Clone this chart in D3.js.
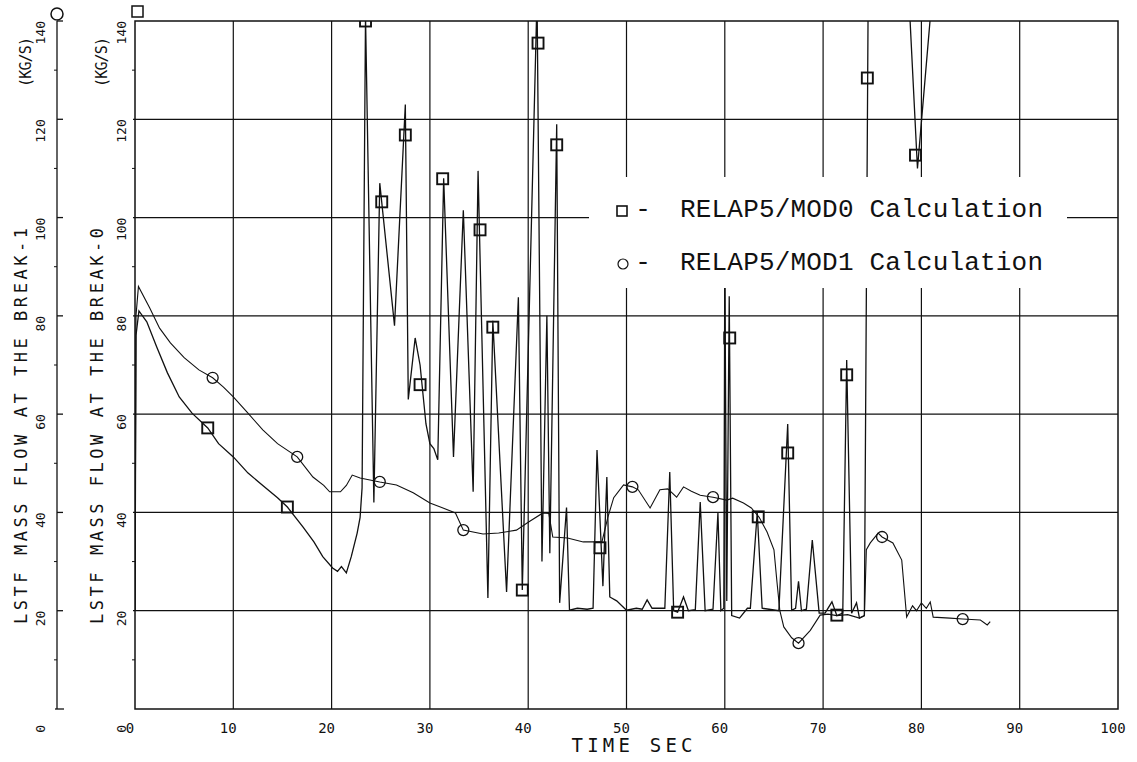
<!DOCTYPE html>
<html><head><meta charset="utf-8">
<script src="https://cdn.jsdelivr.net/npm/d3@7"></script>
<style>body{margin:0;background:#fff}svg{display:block}</style>
</head><body>
<svg id="c" width="1137" height="762"></svg>
<script>
// ---------------- data ----------------
const xTicks = [0,10,20,30,40,50,60,70,80,90,100];
const xTickLabels = ["0","10","20","30","40","50","60","70","80","90","100"];
const yTicks = [0,20,40,60,80,100,120,140];
const yTickLabels = ["0","20","40","60","80","100","120","140"];

// RELAP5/MOD0 (square markers)
const mod0Time = [0,0.1,0.4,1.2,2.2,3.3,4.5,5.8,7.4,8.5,10,11.5,13,14.5,15.5,17.1,18.2,19.1,20.1,20.6,21,21.5,22,22.6,22.9,23.1,23.45,24.3,24.9,26.4,27.5,27.8,28.5,29,29.6,30,30.4,30.8,31.4,32.4,33.4,34.4,34.9,35.9,36.4,37.8,39,39.4,40.9,41.4,41.9,42.2,42.9,43.2,43.9,44.2,45,46,46.6,47,47.6,48,48.3,49,50,51,51.6,52.1,52.6,53.9,54.4,54.8,55.2,55.8,56.3,57,57.5,58,58.8,59.3,59.6,59.9,60,60.2,60.45,60.7,61.5,62.3,62.6,63.3,63.8,64.5,65.5,66.4,66.8,67.2,67.5,67.8,68.3,68.9,69.6,70.2,70.9,71.4,72,72.4,72.9,73.4,73.7,74.2,74.6,78.6,79.6,81.3];
const mod0Flow = [20,76,81,78.8,73.7,68.4,63.5,60.2,57.2,54,51.3,48,45.5,43,41.1,37,34,31,28.7,28,29,27.7,31,35.8,39,45,141,42,107,78,123,63,75.5,70,58,54,53,50.7,108,51.3,101.5,44.2,109.5,22.6,79,23.8,83.8,24.2,145,30,80,31.7,119,21.6,41,20.1,20.5,20.3,20.5,52.7,25,47.2,22.8,22,20.1,20.5,20.3,22.2,20.5,20.5,48.2,20,19.7,22.8,20,20.2,42.1,20,20.3,39.9,20,20.5,92,22,84,19,18.5,20.5,20.5,40,20.5,20.3,20,58,20.1,20.5,26,20,20.3,34.4,19.5,19.5,21.8,19,19.5,71,19.5,21.6,18.5,19,150,150,110,150];
const mod0MarkTime = [7.4,15.5,23.45,25.1,27.5,29.0,31.3,35.1,36.4,39.4,41.0,42.9,47.3,55.2,60.5,63.4,66.4,71.4,72.4,74.5,79.4];
const mod0MarkFlow = [57.2,41.1,140,103.2,116.8,66,107.9,97.5,77.7,24.2,135.5,114.8,32.8,19.7,75.5,39.1,52.1,19.1,68,128.4,112.7];

// RELAP5/MOD1 (circle markers)
const mod1Time = [0,0.1,0.35,1.5,2.5,3.6,5,6.5,7.9,9,10,11.4,13,14.5,16.5,18.1,19.2,19.8,20.9,21.5,22.1,22.9,24.9,26.6,28.3,30,31.2,32.6,33.4,35.4,37,38.8,40,41.5,42.1,42.5,44,45.6,47.5,48.1,48.7,49.7,50.6,51.2,52.4,53.4,54.2,55.1,55.8,56.6,57.5,58.8,60.2,60.8,61.9,62.7,63.5,64.3,65,65.3,65.6,66,66.8,67.5,68.7,69.7,70.5,71.4,72.5,73.7,74.2,74.4,74.8,75.6,76,77.1,78,78.5,79.1,79.5,80,80.5,80.9,81.2,82.9,84.2,86,86.7,87];
const mod1Flow = [20,80,86,81.6,77.5,74.5,71.5,69,67.4,65.5,63.5,60.4,56.8,54,51.3,47.2,45.5,44.2,44.2,45.5,47.6,47,46.2,45.6,44,41.9,41,39.9,36.4,35.6,35.8,36.4,38,39.9,39.8,35,34.8,34,34,39,43,45.6,45.2,44.6,40.9,44.6,44.8,43.1,45.2,44.3,43.5,43.1,42.5,42.9,41.9,40.9,39,36,32.4,26,20,16.7,14.5,13.4,16,19.1,19.3,19,19.2,18.5,19,32.4,33.8,35.8,35,33.8,30.3,18.7,21,20,21.6,20.5,21.8,18.7,18.5,18.3,18.1,17.1,17.8];
const mod1MarkTime = [7.9,16.5,24.9,33.4,50.6,58.8,67.5,76.0,84.2];
const mod1MarkFlow = [67.4,51.3,46.2,36.4,45.2,43.1,13.4,35.0,18.3];

const legendLabels = ["RELAP5/MOD0 Calculation","RELAP5/MOD1 Calculation"];
const yTitleInner = "LSTF MASS FLOW AT THE BREAK-0";
const yTitleOuter = "LSTF MASS FLOW AT THE BREAK-1";
const yUnit = "(KG/S)";
const xTitle = "TIME  SEC";

// ---------------- drawing ----------------
const svg = d3.select("#c");
const ink = "#111";
const monoFont = "'DejaVu Sans Mono', monospace";
svg.append("rect").attr("width",1137).attr("height",762).attr("fill","#fff");

const x = d3.scaleLinear().domain([0,100]).range([135,1118]);
const y = d3.scaleLinear().domain([0,140]).range([709,21]);
const yOuter = d3.scaleLinear().domain([0,140]).range([709,21]);
const outerX = 57;

svg.append("defs").append("clipPath").attr("id","plotClip")
  .append("rect").attr("x",x(0)).attr("y",y(140))
  .attr("width",x(100)-x(0)).attr("height",y(0)-y(140));

// grid
const grid = svg.append("g").attr("stroke",ink).attr("stroke-width",1.2);
grid.selectAll("line.vg").data(xTicks.slice(1,-1)).join("line")
  .attr("x1",d=>x(d)).attr("x2",d=>x(d)).attr("y1",y(0)).attr("y2",y(140));
grid.selectAll("line.hg").data(yTicks.slice(1,-1)).join("line")
  .attr("x1",x(0)-2).attr("x2",x(100)).attr("y1",d=>y(d)).attr("y2",d=>y(d));
grid.selectAll("line.mt").data(d3.range(10,140,20)).join("line")
  .attr("x1",x(0)-3).attr("x2",x(0)).attr("y1",d=>y(d)).attr("y2",d=>y(d)).attr("stroke-width",1);
svg.append("rect").attr("x",x(0)).attr("y",y(140)).attr("width",x(100)-x(0)).attr("height",y(0)-y(140))
  .attr("fill","none").attr("stroke",ink).attr("stroke-width",1.5);

// data lines
const line = d3.line().x(d=>x(d[0])).y(d=>y(d[1]));
const dataG = svg.append("g").attr("clip-path","url(#plotClip)").attr("fill","none").attr("stroke",ink);
dataG.append("path").datum(d3.zip(mod1Time,mod1Flow)).attr("d",line).attr("stroke-width",1.1);
dataG.append("path").datum(d3.zip(mod0Time,mod0Flow)).attr("d",line).attr("stroke-width",1.3);

// markers
const ms = 11;
dataG.selectAll("rect.m0").data(d3.zip(mod0MarkTime,mod0MarkFlow)).join("rect")
  .attr("x",d=>x(d[0])-ms/2).attr("y",d=>y(d[1])-ms/2).attr("width",ms).attr("height",ms)
  .attr("fill","none").attr("stroke-width",1.9);
dataG.selectAll("circle.m1").data(d3.zip(mod1MarkTime,mod1MarkFlow)).join("circle")
  .attr("cx",d=>x(d[0])).attr("cy",d=>y(d[1])).attr("r",5.5)
  .attr("fill","none").attr("stroke-width",1.3);

// legend (blanks the grid behind it)
svg.append("rect").attr("x",589).attr("y",177).attr("width",478).attr("height",111).attr("fill","#fff");
const leg = svg.append("g");
const legFont = "'Courier New','Liberation Mono',monospace";
leg.append("rect").attr("x",617).attr("y",206).attr("width",10).attr("height",10)
  .attr("fill","none").attr("stroke",ink).attr("stroke-width",1.6);
leg.append("circle").attr("cx",623).attr("cy",264).attr("r",5)
  .attr("fill","none").attr("stroke",ink).attr("stroke-width",1.2);
[217,270].forEach((by,i)=>{
  leg.append("text").attr("x",643).attr("y",by).attr("text-anchor","middle")
    .attr("font-family",legFont).attr("font-size",26).attr("fill",ink).text("-");
  leg.append("text").attr("x",680).attr("y",by)
    .attr("font-family",legFont).attr("font-size",26).attr("fill",ink)
    .attr("textLength",363).attr("lengthAdjust","spacing").text(legendLabels[i]);
});

// x tick labels
svg.append("g").selectAll("text").data(xTicks).join("text")
  .attr("x",d=>x(d)-5).attr("y",733).attr("text-anchor","middle")
  .attr("font-family",monoFont).attr("font-size",14).attr("fill",ink)
  .text((d,i)=>xTickLabels[i]);
svg.append("text").attr("x",632).attr("y",752).attr("text-anchor","middle")
  .attr("font-family",monoFont).attr("font-size",19).attr("fill",ink)
  .attr("textLength",121).attr("lengthAdjust","spacing").text(xTitle);

// y tick labels (rotated)
function yLabels(scale, bx){
  svg.append("g").selectAll("text").data(yTicks).join("text")
    .attr("transform",d=>`translate(${bx},${d===0?scale(d)+16:scale(d)}) rotate(-90)`)
    .attr("text-anchor","end")
    .attr("font-family",monoFont).attr("font-size",13).attr("fill",ink)
    .text((d,i)=>yTickLabels[i]);
}
yLabels(y,126);
yLabels(yOuter,45);

// y titles
function yTitle(bx, txt){
  svg.append("text").attr("transform",`translate(${bx},426) rotate(-90)`)
    .attr("text-anchor","middle").attr("font-family",monoFont).attr("font-size",17).attr("fill",ink)
    .attr("textLength",396).attr("lengthAdjust","spacing").text(txt);
  svg.append("text").attr("transform",`translate(${bx+4},62) rotate(-90)`)
    .attr("text-anchor","middle").attr("font-family",monoFont).attr("font-size",15).attr("fill",ink)
    .attr("textLength",50).attr("lengthAdjust","spacing").text(yUnit);
}
yTitle(27, yTitleOuter);
yTitle(103, yTitleInner);

// outer axis
const og = svg.append("g").attr("stroke",ink).attr("stroke-width",1.3);
og.append("line").attr("x1",outerX).attr("x2",outerX).attr("y1",yOuter(0)).attr("y2",yOuter(140));
og.append("line").attr("x1",outerX-2).attr("x2",outerX+7).attr("y1",yOuter(0)).attr("y2",yOuter(0));
og.selectAll("line.t").data(yTicks.slice(1)).join("line")
  .attr("x1",outerX).attr("x2",outerX+6).attr("y1",d=>yOuter(d)).attr("y2",d=>yOuter(d));
og.selectAll("line.m").data(d3.range(10,140,20)).join("line")
  .attr("x1",outerX-3).attr("x2",outerX).attr("y1",d=>yOuter(d)).attr("y2",d=>yOuter(d)).attr("stroke-width",1);

// series symbols on top of the axes
svg.append("circle").attr("cx",57).attr("cy",14).attr("r",6).attr("fill","none").attr("stroke",ink).attr("stroke-width",1.5);
svg.append("rect").attr("x",132).attr("y",6).attr("width",11).attr("height",11).attr("fill","none").attr("stroke",ink).attr("stroke-width",1.5);
</script>
</body></html>
